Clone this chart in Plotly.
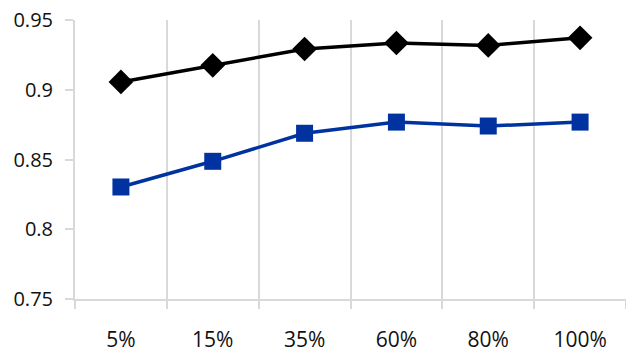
import plotly.graph_objects as go

categories = ["5%", "15%", "35%", "60%", "80%", "100%"]
series_black = [0.9056, 0.9175, 0.9292, 0.9335, 0.9318, 0.9372]
series_blue = [0.8303, 0.8487, 0.8688, 0.8768, 0.8740, 0.8768]
y_ticks = [0.75, 0.8, 0.85, 0.9, 0.95]
y_tick_labels = ["0.75", "0.8", "0.85", "0.9", "0.95"]

fig = go.Figure()
fig.add_trace(go.Scatter(
    x=categories, y=series_black, mode="lines+markers",
    line=dict(color="#000000", width=3.5),
    marker=dict(symbol="diamond", size=19, color="#000000"),
    showlegend=False,
))
fig.add_trace(go.Scatter(
    x=categories, y=series_blue, mode="lines+markers",
    line=dict(color="#0033A0", width=3.5),
    marker=dict(symbol="square", size=17, color="#0033A0"),
    showlegend=False,
))

grid = "#d9d9d9"
fig.update_layout(
    width=626, height=354,
    margin=dict(l=75, r=0, t=20, b=55),
    paper_bgcolor="white", plot_bgcolor="white",
    font=dict(family="Open Sans", size=20, color="#111111"),
    xaxis=dict(
        type="category", range=[-0.5, 5.5],
        tickson="boundaries", showgrid=True, gridcolor=grid, gridwidth=2,
        ticks="outside", ticklen=8, tickcolor=grid, tickwidth=2,
        showline=True, linecolor=grid, linewidth=2,
        ticklabelstandoff=21, zeroline=False,
        tickfont=dict(size=21),
    ),
    yaxis=dict(
        range=[0.75, 0.95], tickvals=y_ticks, ticktext=y_tick_labels,
        showgrid=False, zeroline=False,
        ticks="outside", ticklen=8, tickcolor=grid, tickwidth=2,
        showline=True, linecolor=grid, linewidth=2,
        ticklabelstandoff=8,
    ),
)

fig.write_html("out.html")
